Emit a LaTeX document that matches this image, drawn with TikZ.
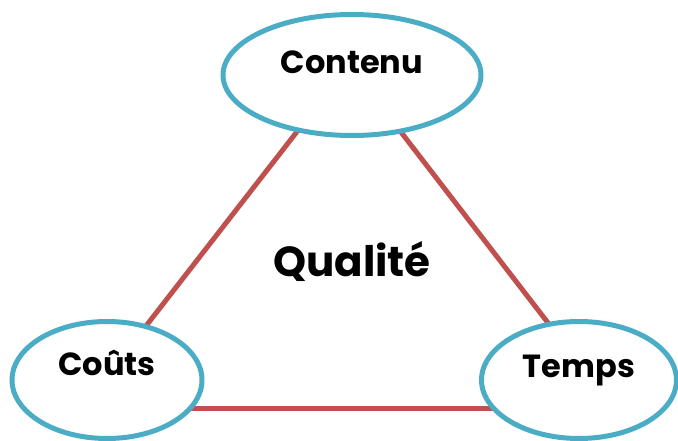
\documentclass[tikz,border=0pt]{standalone}
\usepackage{fontspec}
\setmainfont{Poppins}
\usepackage{tikz}
\usetikzlibrary{shapes,positioning,calc}
\usetikzlibrary{backgrounds}
\definecolor{bordbleu}{HTML}{4BACC6}
\definecolor{lienrouge}{HTML}{C0504D}

\begin{document}
\begin{tikzpicture}[x=1pt,y=-1pt]
	\tikzstyle{pole}=[ellipse, draw=bordbleu, line width=5pt, fill=white]
	\tikzstyle{every label}=[font=\bfseries\fontsize{32}{36}\selectfont]
	\tikzstyle{lien}=[draw=lienrouge, line width=5pt]
	\useasboundingbox (0,0) rectangle (678,441);
	\clip (0,0) rectangle (678,441);
	
	\node[pole, minimum width=258pt, minimum height=121pt, label={[yshift=13pt]center:Contenu}](contenu) at (352,75){};
	\node[pole, minimum width=190pt, minimum height=117pt, label={[yshift=17pt]center:Coûts}](couts) at (107,380){};
	\node[pole, minimum width=195pt, minimum height=117pt, label={[yshift=9pt]center:Temps}](temps) at (579,380){};
	\node[font=\bfseries\fontsize{42}{48}\selectfont](qualite) at (352,262){Qualité};
	
	\begin{scope}[on background layer]
	\path[lien] ($(contenu.center)+(-11,0)$) -- ($(couts.center)+(-3,0)$);
	\path[lien] ($(contenu.center)+(5,0)$) -- ($(temps.center)+(13,0)$);
	\path[lien] ($(couts.center)+(0,28)$) -- ($(temps.center)+(0,28)$);
	\end{scope}
\end{tikzpicture}
\end{document}
